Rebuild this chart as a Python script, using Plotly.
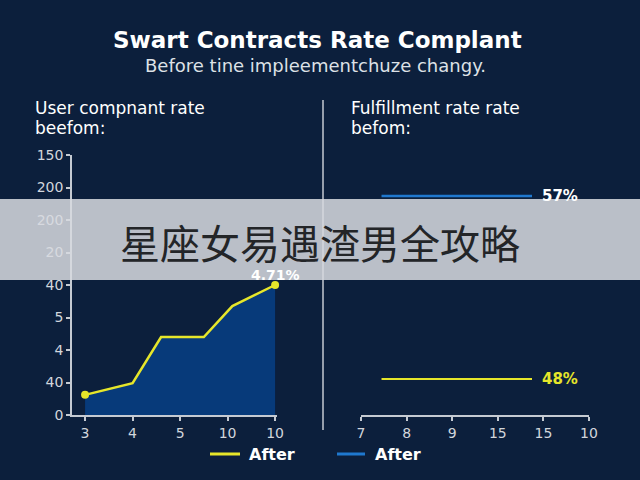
import plotly.graph_objects as go

# ---------------- data ----------------
title_text = "Swart Contracts Rate Complant"
subtitle_text = "Before tine impleementchuze changy."
left_panel_title = ["User compnant rate", "beefom:"]
right_panel_title = ["Fulfillment rate rate", "befom:"]
banner_text = "星座女易遇渣男全攻略"

left_x_ticktext = ["3", "4", "5", "10", "10"]
left_y_ticktext = ["0", "40", "4", "5", "40", "20", "200", "200", "150"]
left_x = [0.0, 1.0, 1.6, 2.5, 3.1, 4.0]
left_y = [0.62, 0.98, 2.4, 2.4, 3.35, 4.0]
left_label = "4.71%"

right_x_ticktext = ["7", "8", "9", "15", "15", "10"]
right_line_x = [0.45, 3.75]
blue_value = 57
yellow_value = 48
legend_name = "After"

# ---------------- styles ----------------
BG = "#0c1f3c"
AXIS = "#c5cad2"
TICKFONT = "#d2d6dc"
YELLOW = "#e6e62a"
BLUE = "#1f78cf"
FILL = "#073a7a"
FONT = "DejaVu Sans"

W, H = 640, 480
def px(x):
    return x / W
def py(y):
    return 1 - y / H

fig = go.Figure()

# left area chart
fig.add_trace(go.Scatter(
    x=left_x, y=left_y, mode="lines",
    line=dict(color=YELLOW, width=2.5),
    fill="tozeroy", fillcolor=FILL,
    xaxis="x", yaxis="y", showlegend=False,
))
fig.add_trace(go.Scatter(
    x=[left_x[0], left_x[-1]], y=[left_y[0], left_y[-1]], mode="markers",
    marker=dict(color=YELLOW, size=8, opacity=1, line=dict(width=0)),
    xaxis="x", yaxis="y", showlegend=False, cliponaxis=False,
))
# right lines
fig.add_trace(go.Scatter(
    x=right_line_x, y=[blue_value] * len(right_line_x), mode="lines",
    line=dict(color=BLUE, width=2.5), xaxis="x2", yaxis="y2", showlegend=False,
))
fig.add_trace(go.Scatter(
    x=right_line_x, y=[yellow_value] * len(right_line_x), mode="lines",
    line=dict(color=YELLOW, width=2), xaxis="x2", yaxis="y2", showlegend=False,
))

axis_common = dict(showgrid=False, zeroline=False, showline=True, linecolor=AXIS,
                   linewidth=1.5, ticks="outside", tickcolor=AXIS, ticklen=4,
                   tickwidth=1.5, tickfont=dict(family=FONT, size=14, color=TICKFONT),
                   fixedrange=True, automargin=False)

def txt(text, x, y, size, color="white", xanchor="center", bold=False, family=FONT, xref="paper", yref="paper", **kw):
    t = f"<b>{text}</b>" if bold else text
    return dict(text=t, xref=xref, yref=yref, x=x, y=y, xanchor=xanchor, yanchor="middle",
                showarrow=False, font=dict(family=family, size=size, color=color), **kw)

fig.update_layout(
    width=W, height=H, autosize=False,
    paper_bgcolor=BG, plot_bgcolor="rgba(0,0,0,0)",
    margin=dict(l=0, r=0, t=0, b=0, pad=0, autoexpand=False),
    font=dict(family=FONT, color="white"),
    showlegend=False,
    xaxis=dict(domain=[px(72), px(277)], range=[-0.275, 4.04],
               tickvals=list(range(len(left_x_ticktext))), ticktext=left_x_ticktext,
               anchor="y", **axis_common),
    yaxis=dict(domain=[py(415), py(155)], range=[0, 8],
               tickvals=list(range(len(left_y_ticktext))), ticktext=left_y_ticktext,
               anchor="x", **axis_common),
    xaxis2=dict(domain=[px(361), px(589)], range=[0, 5],
                tickvals=list(range(len(right_x_ticktext))), ticktext=right_x_ticktext,
                anchor="y2", **axis_common),
    yaxis2=dict(domain=[py(415), py(155)], range=[46.23, 59.02], visible=False,
                anchor="x2", fixedrange=True),
    shapes=[
        dict(type="line", xref="paper", yref="paper", x0=px(323), x1=px(323),
             y0=py(100), y1=py(430), line=dict(color=AXIS, width=1.5)),
        # legend samples
        dict(type="line", xref="paper", yref="paper", x0=px(210), x1=px(240),
             y0=py(454), y1=py(454), line=dict(color=YELLOW, width=3)),
        dict(type="line", xref="paper", yref="paper", x0=px(337), x1=px(365),
             y0=py(454), y1=py(454), line=dict(color=BLUE, width=3)),
        # banner
        dict(type="rect", xref="paper", yref="paper", x0=0, x1=1,
             y0=py(280), y1=py(199), fillcolor="rgba(215,218,224,0.86)",
             line=dict(width=0), layer="above"),
    ],
    annotations=[
        txt(title_text, px(317), py(40), 23, bold=True),
        txt(subtitle_text, px(315), py(66), 18, color="#dde1e6"),
        txt(left_panel_title[0], px(33), py(108), 17, xanchor="left"),
        txt(left_panel_title[1], px(33), py(128), 17, xanchor="left"),
        txt(right_panel_title[0], px(349), py(108), 17, xanchor="left"),
        txt(right_panel_title[1], px(349), py(128), 17, xanchor="left"),
        txt(left_label, left_x[-1], left_y[-1], 14, bold=True, xref="x", yref="y", yshift=10),
        txt(f"{blue_value}%", right_line_x[-1], blue_value, 15, bold=True, xanchor="left",
            xref="x2", yref="y2", xshift=8),
        txt(f"{yellow_value}%", right_line_x[-1], yellow_value, 15, color=YELLOW, bold=True,
            xanchor="left", xref="x2", yref="y2", xshift=8),
        txt(legend_name, px(247), py(454), 16, bold=True, xanchor="left"),
        txt(legend_name, px(373), py(454), 16, bold=True, xanchor="left"),
        txt(banner_text, px(320), py(242), 40, color="#232528", family="Noto Sans CJK SC"),
    ],
)

fig.write_html("out.html", config={"displayModeBar": False},
               post_script="document.body.style.margin='0';document.body.style.overflow='hidden';")
